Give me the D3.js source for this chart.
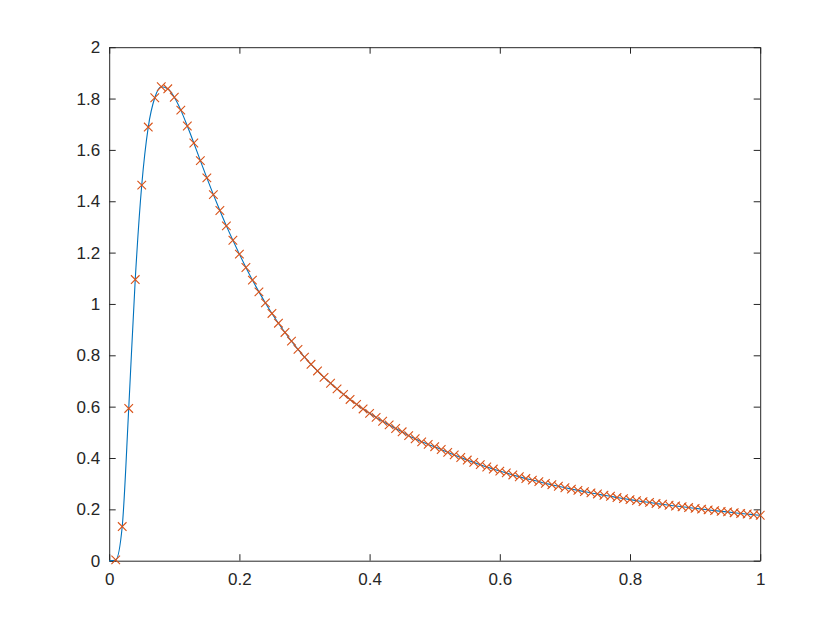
<!DOCTYPE html>
<html>
<head>
<meta charset="utf-8">
<script src="https://cdn.jsdelivr.net/npm/d3@7"></script>
<style>
  html, body { margin: 0; padding: 0; background: #fff; }
  svg { display: block; }
</style>
</head>
<body>
<svg id="chart" width="840" height="630"></svg>
<script>
// ---- data ----
const xValues = [0.01,0.02,0.03,0.04,0.05,0.06,0.07,0.08,0.09,0.10,
  0.11,0.12,0.13,0.14,0.15,0.16,0.17,0.18,0.19,0.20,
  0.21,0.22,0.23,0.24,0.25,0.26,0.27,0.28,0.29,0.30,
  0.31,0.32,0.33,0.34,0.35,0.36,0.37,0.38,0.39,0.40,
  0.41,0.42,0.43,0.44,0.45,0.46,0.47,0.48,0.49,0.50,
  0.51,0.52,0.53,0.54,0.55,0.56,0.57,0.58,0.59,0.60,
  0.61,0.62,0.63,0.64,0.65,0.66,0.67,0.68,0.69,0.70,
  0.71,0.72,0.73,0.74,0.75,0.76,0.77,0.78,0.79,0.80,
  0.81,0.82,0.83,0.84,0.85,0.86,0.87,0.88,0.89,0.90,
  0.91,0.92,0.93,0.94,0.95,0.96,0.97,0.98,0.99,1.00];
const yValues = [0.003,0.133,0.593,1.095,1.463,1.689,1.803,1.846,1.838,1.805,
  1.755,1.693,1.627,1.558,1.491,1.426,1.364,1.304,1.248,1.194,
  1.142,1.093,1.047,1.004,0.963,0.925,0.889,0.855,0.823,0.793,
  0.765,0.739,0.714,0.691,0.669,0.648,0.628,0.609,0.591,0.574,
  0.558,0.543,0.529,0.515,0.502,0.487,0.475,0.463,0.453,0.444,
  0.433,0.422,0.412,0.402,0.392,0.383,0.374,0.365,0.357,0.349,
  0.342,0.334,0.327,0.320,0.314,0.308,0.301,0.296,0.290,0.284,
  0.279,0.274,0.269,0.264,0.260,0.255,0.251,0.246,0.242,0.238,
  0.234,0.230,0.227,0.223,0.220,0.216,0.213,0.210,0.207,0.204,
  0.201,0.198,0.195,0.192,0.190,0.187,0.184,0.182,0.179,0.177];
// smooth line also starts at the origin
const lineStartX = [0];
const lineStartY = [0];
const xTicks = [0, 0.2, 0.4, 0.6, 0.8, 1];
const yTicks = [0, 0.2, 0.4, 0.6, 0.8, 1, 1.2, 1.4, 1.6, 1.8, 2];

(function () {
// ---- layout ----
const mLeft = 109.2, mRight = 760.2, mTop = 47.2, mBottom = 560.7;
const axisColor = "#262626";
const lineColor = "#0072BD";
const markColor = "#D95319";
const font = "'Liberation Sans', Arial, Helvetica, sans-serif";

const svg = d3.select("#chart");
const x = d3.scaleLinear().domain([0, 1]).range([mLeft, mRight]);
const y = d3.scaleLinear().domain([0, 2]).range([mBottom, mTop]);

const fmt = d => String(+d.toFixed(1));

// axes with inward ticks on all four sides
const tickLen = 6.5;
const gB = svg.append("g").attr("transform", `translate(0,${mBottom})`)
  .call(d3.axisBottom(x).tickValues(xTicks).tickFormat(fmt).tickSizeInner(-tickLen).tickSizeOuter(0).tickPadding(12));
const gT = svg.append("g").attr("transform", `translate(0,${mTop})`)
  .call(d3.axisTop(x).tickValues(xTicks).tickFormat("").tickSizeInner(-tickLen).tickSizeOuter(0));
const gL = svg.append("g").attr("transform", `translate(${mLeft},0)`)
  .call(d3.axisLeft(y).tickValues(yTicks).tickFormat(fmt).tickSizeInner(-tickLen).tickSizeOuter(0).tickPadding(9));
const gR = svg.append("g").attr("transform", `translate(${mRight},0)`)
  .call(d3.axisRight(y).tickValues(yTicks).tickFormat("").tickSizeInner(-tickLen).tickSizeOuter(0));

[gB, gT, gL, gR].forEach(g => {
  g.selectAll(".domain").attr("stroke", axisColor).attr("stroke-width", 1);
  g.selectAll(".tick line").attr("stroke", axisColor).attr("stroke-width", 1);
  g.selectAll(".tick text").attr("fill", axisColor)
    .attr("font-family", font).attr("font-size", 17);
});

// data line
const linePts = lineStartX.map((v, i) => [v, lineStartY[i]])
  .concat(xValues.map((v, i) => [v, yValues[i]]));
const line = d3.line().x(d => x(d[0])).y(d => y(d[1])).curve(d3.curveMonotoneX);
svg.append("path").datum(linePts)
  .attr("d", line).attr("fill", "none")
  .attr("stroke", lineColor).attr("stroke-width", 1.1);

// 'x' markers
const s = 4.3;
const marks = svg.append("g").attr("stroke", markColor).attr("stroke-width", 1.1);
marks.selectAll("path").data(xValues.map((v, i) => [v, yValues[i]]))
  .join("path")
  .attr("d", d => {
    const cx = x(d[0]), cy = y(d[1]);
    return `M${cx - s},${cy - s}L${cx + s},${cy + s}M${cx - s},${cy + s}L${cx + s},${cy - s}`;
  })
  .attr("fill", "none");
})();
</script>
</body>
</html>
